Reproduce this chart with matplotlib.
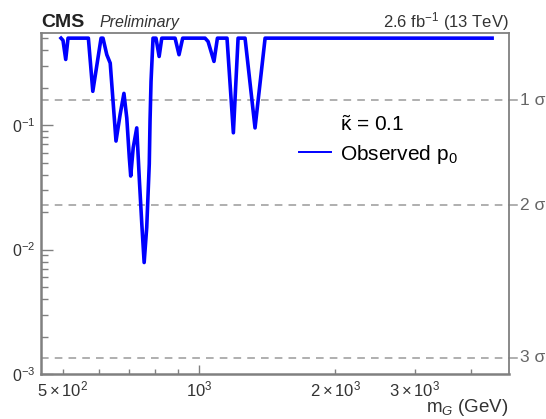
import numpy as np
import matplotlib
matplotlib.use('Agg')
import matplotlib.pyplot as plt
from matplotlib.lines import Line2D

# =============================================================================
# Data
# =============================================================================
mass = [495, 500, 507, 513, 569, 582, 607, 613, 625, 636, 655, 669, 682,
        692, 701, 706, 715, 728, 738, 747, 756, 766, 776, 779, 783, 791,
        803, 816, 827, 885, 903, 920, 1031, 1047, 1079, 1098, 1153, 1191,
        1220, 1264, 1330, 1400, 4450]
p0 = [0.5, 0.48, 0.337, 0.5, 0.5, 0.187, 0.5, 0.5, 0.368, 0.315, 0.0745,
      0.122, 0.180, 0.114, 0.0547, 0.039, 0.0658, 0.095, 0.0356, 0.0161,
      0.00787, 0.0151, 0.0488, 0.108, 0.225, 0.5, 0.5, 0.356, 0.5, 0.5,
      0.368, 0.5, 0.5, 0.47, 0.325, 0.5, 0.5, 0.0868, 0.5, 0.5, 0.095,
      0.5, 0.5]

sigma_p      = [0.1587, 0.02275, 0.00135]
sigma_labels = ['1 σ', '2 σ', '3 σ']

xtick_major  = [1000]
xtick_minor  = [500, 600, 700, 800, 900, 2000, 3000, 4000]
xminor_lab   = {500: r'$5\times10^{2}$', 2000: r'$2\times10^{3}$',
                3000: r'$3\times10^{3}$'}
ytick_major  = [1e-1, 1e-2, 1e-3]
ytick_labels = [r'$0^{-1}$', r'$0^{-2}$', r'$0^{-3}$']

# =============================================================================
# Style
# =============================================================================
plt.rcParams['font.family'] = ['Liberation Sans', 'DejaVu Sans']
plt.rcParams['mathtext.fontset'] = 'custom'
plt.rcParams['mathtext.rm'] = 'Liberation Sans'
plt.rcParams['mathtext.it'] = 'Liberation Sans:italic'
plt.rcParams['mathtext.bf'] = 'Liberation Sans:bold'

W, H = 546, 419
fig = plt.figure(figsize=(W / 100, H / 100), dpi=100)
ax = fig.add_axes([41 / W, 1 - 374 / H, (509 - 41) / W, (374 - 33) / H])

frame_c = '#808080'
for s in ax.spines.values():
    s.set_color(frame_c)
    s.set_linewidth(1.3)
ax.spines['left'].set_linewidth(1.8)
ax.spines['bottom'].set_linewidth(1.8)

# sigma lines
for p in sigma_p:
    ax.axhline(p, color='#9a9a9a', lw=1.1, ls=(0, (5, 4)), zorder=1)

ax.plot(mass, p0, color='#0000ff', lw=2.6, solid_joinstyle='round', zorder=3)

ax.set_xscale('log')
ax.set_yscale('log')
ax.set_xlim(447, 4850)
ax.set_ylim(1e-3, 0.55)

# x ticks
ax.xaxis.set_major_locator(matplotlib.ticker.FixedLocator(xtick_major))
ax.xaxis.set_major_formatter(matplotlib.ticker.FixedFormatter([r'$10^{3}$']))
ax.xaxis.set_minor_locator(matplotlib.ticker.FixedLocator(xtick_minor))
ax.xaxis.set_minor_formatter(matplotlib.ticker.FuncFormatter(
    lambda v, pos: xminor_lab.get(int(round(v)), '')))
ax.tick_params(axis='x', which='major', direction='in', length=6.5, width=1.0,
               color=frame_c, labelsize=12, pad=4, labelcolor='#333333')
ax.tick_params(axis='x', which='minor', direction='in', length=3.6, width=1.0,
               color=frame_c, labelsize=12, pad=4, labelcolor='#333333')

# y ticks
ax.yaxis.set_major_locator(matplotlib.ticker.FixedLocator(ytick_major))
ax.yaxis.set_major_formatter(matplotlib.ticker.FixedFormatter(ytick_labels))
ax.yaxis.set_minor_locator(matplotlib.ticker.LogLocator(base=10, subs=np.arange(2, 10)))
ax.yaxis.set_minor_formatter(matplotlib.ticker.NullFormatter())
ax.tick_params(axis='y', which='major', direction='in', length=8.5, width=1.0,
               color=frame_c, labelsize=11.5, pad=4, labelcolor='#333333')
ax.tick_params(axis='y', which='minor', direction='in', length=5, width=1.0,
               color=frame_c)

# sigma labels on the right
tr = ax.get_yaxis_transform()
for p, lab in zip(sigma_p, sigma_labels):
    ax.plot([1.0, 1.017], [p, p], color='#9a9a9a', lw=1.1, transform=tr,
            clip_on=False)
    ax.text(1.023, p, lab, transform=tr, ha='left', va='center',
            fontsize=12.5, color='#666666')

# legend
handles = [Line2D([], [], color='none'),
           Line2D([], [], color='#0000ff', lw=1.4)]
labels = [r'$\tilde{\mathrm{\kappa}}$ = 0.1', r'Observed p$_{0}$']
ax.legend(handles, labels, loc='upper left', bbox_to_anchor=(0.552, 0.758),
          frameon=False, fontsize=15, handlelength=1.5, handletextpad=0.45,
          labelspacing=0.35, borderpad=0, borderaxespad=0)

# header texts
fig.text(41 / W, 1 - 27 / H, 'CMS', fontsize=14, fontweight='bold',
         ha='left', va='baseline', color='#222222')
fig.text(100 / W, 1 - 27 / H, 'Preliminary', fontsize=11.5, style='italic',
         ha='left', va='baseline', color='#333333')
fig.text(509 / W, 1 - 27 / H, r'2.6 fb$^{-1}$ (13 TeV)', fontsize=12,
         ha='right', va='baseline', color='#333333')
fig.text(509 / W, 1 - 397 / H, r'm$_{G}$ (GeV)', fontsize=13.5,
         ha='right', va='top', color='#333333')

fig.savefig('out.png', dpi=100)
